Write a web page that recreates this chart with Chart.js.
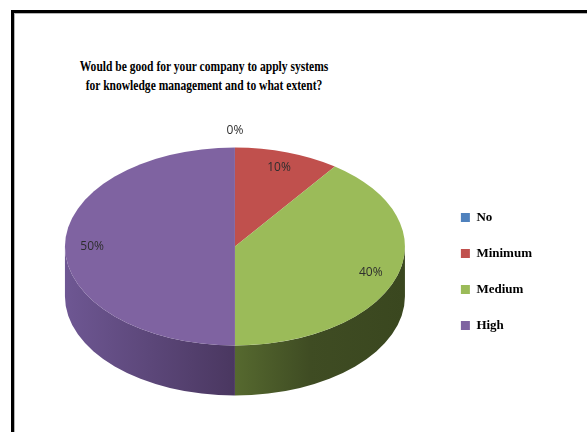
<!DOCTYPE html>
<html>
<head>
<meta charset="utf-8">
<title>Knowledge management systems</title>
<script src="https://cdn.jsdelivr.net/npm/chart.js@4.4.1/dist/chart.umd.min.js"></script>
<style>
  html, body { margin: 0; padding: 0; background: #fff; }
  #wrap { position: relative; width: 587px; height: 432px; overflow: hidden; }
  #frame {
    position: absolute; left: 11px; top: 10px; width: 620px; height: 460px;
    border-left: 3px solid #000; border-top: 3px solid #000;
    box-shadow: inset 1px 1px 0 #b4b4b4;
  }
  #title {
    position: absolute; left: 0; top: 57px; width: 408px;
    text-align: center; white-space: nowrap; color: #000;
    font: bold 15px/18.5px "Liberation Serif", "Times New Roman", serif;
    transform: scaleX(0.77); transform-origin: 204px 0;
  }
  #chart { position: absolute; left: 0; top: 0; }
</style>
</head>
<body>
<div id="wrap">
  <div id="frame"></div>
  <div id="title">Would be good for your company to apply systems<br>for knowledge management and to what extent?</div>
  <canvas id="chart" width="587" height="432"></canvas>
</div>
<script>
// answers and their share of responses (%)
const answers = ['No', 'Minimum', 'Medium', 'High'];
const shares = [0, 10, 40, 50];

// tilts the pie into an ellipse and draws the visible rim below it
const pie3d = {
  id: 'pie3d',
  beforeDatasetsDraw(chart, args, opts) {
    const meta = chart.getDatasetMeta(0);
    if (!meta.data.length) return;
    const { x, y, outerRadius: r } = meta.data[0];
    const ctx = chart.ctx;
    ctx.save();
    ctx.translate(x, y - opts.depth / 2);
    ctx.scale(1, opts.tilt);
    ctx.translate(-x, -y);

    const drop = opts.depth / opts.tilt;
    meta.data.forEach((arc, i) => {
      // only the front half of the rim can be seen
      const a0 = Math.max(arc.startAngle, 0);
      const a1 = Math.min(arc.endAngle, Math.PI);
      if (a1 <= a0) return;
      const grad = ctx.createLinearGradient(x - r, 0, x + r, 0);
      opts.rimStops[i].forEach(([at, c]) => grad.addColorStop(at, c));
      ctx.fillStyle = grad;
      ctx.beginPath();
      ctx.arc(x, y, r, a0, a1);
      ctx.arc(x, y + drop, r, a1, a0, true);
      ctx.closePath();
      ctx.fill();
    });
  },
  afterDatasetsDraw(chart, args, opts) {
    const meta = chart.getDatasetMeta(0);
    if (!meta.data.length) return;
    const ctx = chart.ctx;
    ctx.restore();

    // percentage labels on the top face (empty slices get theirs outside)
    const values = chart.data.datasets[0].data;
    ctx.save();
    ctx.font = opts.labelFont;
    ctx.fillStyle = opts.labelColor;
    ctx.textAlign = 'center';
    ctx.textBaseline = 'middle';
    meta.data.forEach((arc, i) => {
      const mid = (arc.startAngle + arc.endAngle) / 2;
      const dist = arc.outerRadius * (values[i] > 0 ? 0.84 : 1.17);
      const lx = arc.x + Math.cos(mid) * dist;
      const ly = arc.y - opts.depth / 2 + Math.sin(mid) * dist * opts.tilt;
      ctx.fillText(values[i] + '%', lx, ly);
    });
    ctx.restore();
  }
};

new Chart(document.getElementById('chart'), {
  type: 'pie',
  data: {
    labels: answers,
    datasets: [{
      data: shares,
      backgroundColor: ['#4f81bd', '#c0504d', '#9bbb59', '#7f63a1'],
      borderWidth: 0,
      clip: false
    }]
  },
  options: {
    responsive: false,
    animation: false,
    events: [],
    radius: 170,
    layout: { padding: { left: 32, right: 45, top: 121, bottom: 10 } },
    plugins: {
      title: { display: false },
      tooltip: { enabled: false },
      legend: {
        position: 'right',
        labels: {
          boxWidth: 9,
          boxHeight: 9,
          padding: 23,
          color: '#000',
          font: { family: '"Liberation Serif", "Times New Roman", serif', size: 13, weight: 'bold' }
        }
      },
      pie3d: {
        depth: 50,
        tilt: 0.582,
        labelFont: '12px "Open Sans", "Liberation Sans", Arial, sans-serif',
        labelColor: '#2e2e2e',
        rimStops: [
          [[0, '#3d6391'], [1, '#2c4a70']],
          [[0, '#93403d'], [1, '#6e2e2c']],
          [[0.5, '#56692f'], [0.72, '#3f4c23'], [1, '#3a471f']],
          [[0, '#6e5793'], [0.5, '#4a3760']]
        ]
      }
    }
  },
  plugins: [pie3d]
});
</script>
</body>
</html>
